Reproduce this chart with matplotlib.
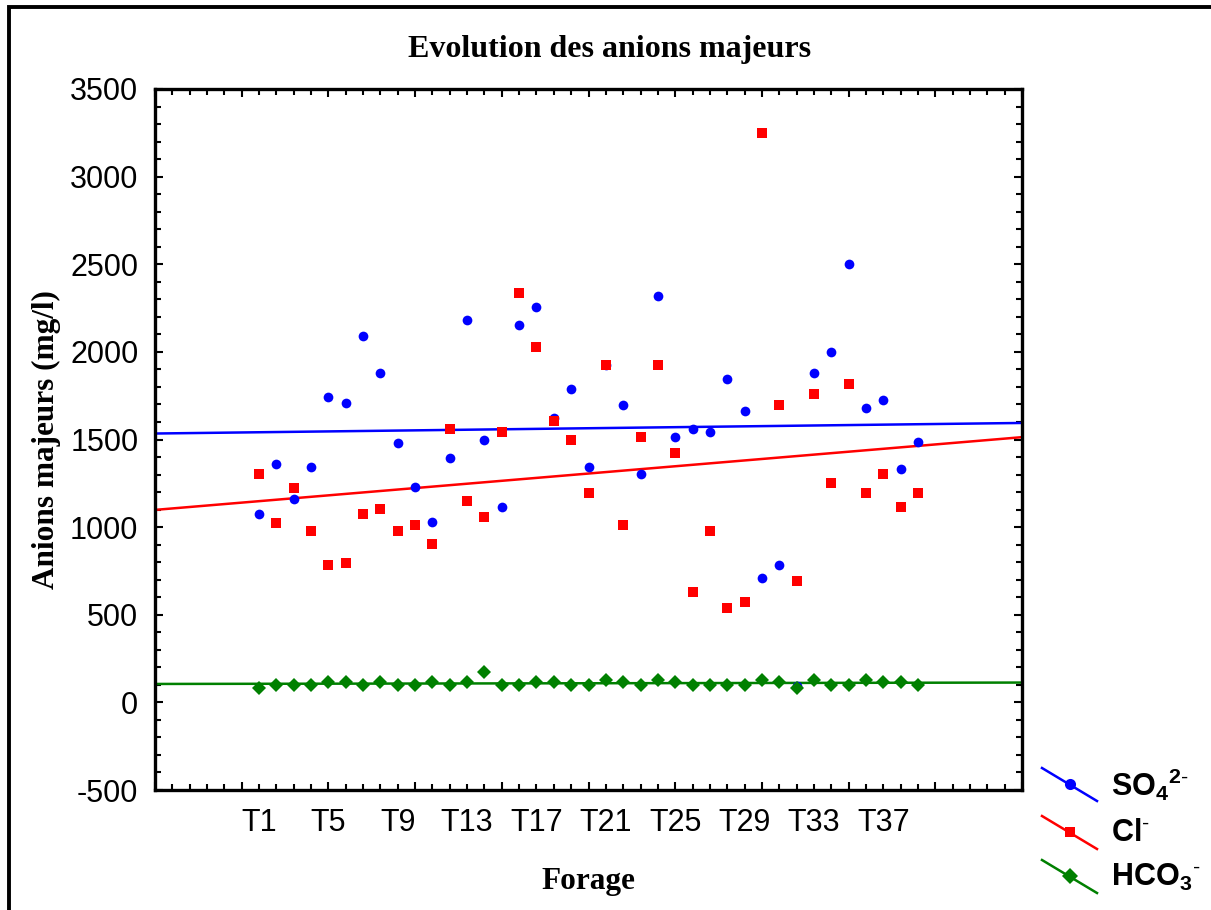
import numpy as np
import matplotlib
matplotlib.use("Agg")
import matplotlib.pyplot as plt
from matplotlib.lines import Line2D
from matplotlib.patches import Rectangle

plt.rcParams['font.family'] = ['Liberation Sans', 'DejaVu Sans']
plt.rcParams['mathtext.fontset'] = 'custom'
plt.rcParams['mathtext.rm'] = 'Liberation Sans'
plt.rcParams['mathtext.bf'] = 'Liberation Sans:bold'
plt.rcParams['axes.unicode_minus'] = False

# forages T1..T39 (numéro de cas 6..44 sur l'axe)
forages = [f"T{i}" for i in range(1, 40)]
x_cas = np.arange(1, 40) + 5

so4 = [1073, 1360, 1161, 1345, 1743, 1710, 2091, 1878, 1482, 1227,
       1028, 1393, 2182, 1497, 1117, 2152, 2258, 1625, 1787, 1345,
       1923, 1697, 1301, 2319, 1513, 1558, 1543, 1847, 1665, 708,
       782, 95, 1878, 2000, 2503, 1680, 1726, 1330, 1484]
cl = [1301, 1026, 1225, 980, 782, 797, 1073, 1102, 980, 1010,
      906, 1558, 1147, 1056, 1545, 2334, 2030, 1604, 1497, 1193,
      1923, 1010, 1513, 1923, 1421, 630, 980, 541, 571, 3247,
      1697, 691, 1758, 1254, 1818, 1193, 1301, 1117, 1193]
hco3 = [80, 100, 100, 100, 115, 115, 100, 115, 100, 100,
        115, 100, 115, 175, 100, 100, 115, 115, 100, 100,
        128, 115, 100, 128, 115, 100, 100, 100, 100, 128,
        115, 80, 128, 100, 100, 128, 115, 115, 100]

tick_labels = forages[::4]          # T1, T5, ..., T37
tick_pos = x_cas[::4]

series = [
    (so4, '#0000ff', 'o', 7, r'$\mathbf{SO_4{}^{2\text{-}}}$'),
    (cl, '#ff0000', 's', 6.8, r'$\mathbf{Cl^{\text{-}}}$'),
    (hco3, '#008000', 'D', 6.8, r'$\mathbf{HCO_3{}^{\text{-}}}$'),
]

W, H = 1211, 910
fig = plt.figure(figsize=(W / 100, H / 100), dpi=100)
ax = fig.add_axes([155 / W, 1 - 790 / H, (1022 - 155) / W, (790 - 89) / H])

xx = np.array([0, 50])
for vals, col, mk, ms, lab in series:
    ax.plot(x_cas, vals, linestyle='none', marker=mk, color=col,
            markersize=ms, markeredgewidth=0, zorder=3)
for vals, col, mk, ms, lab in series:
    b, a = np.polyfit(x_cas, vals, 1)
    ax.plot(xx, a + b * xx, color=col, lw=1.8, zorder=2)

ax.set_xlim(0, 50)
ax.set_ylim(-500, 3500)
ax.set_yticks(np.arange(-500, 3501, 500))
ax.set_yticks(np.arange(-500, 3501, 100), minor=True)
ax.set_xticks(np.arange(0, 51, 5))
ax.set_xticks(np.arange(0, 51, 1), minor=True)
ax.set_xticklabels([])
ax.tick_params(which='both', direction='in', top=True, right=True,
               width=1.5, colors='black')
ax.tick_params(which='major', length=6)
ax.tick_params(which='minor', length=4)
ax.tick_params(axis='y', labelsize=22, pad=12)
for s in ax.spines.values():
    s.set_linewidth(2.4)

sec = ax.secondary_xaxis('bottom')
sec.set_xticks(tick_pos, tick_labels)
sec.tick_params(length=0, labelsize=22, pad=13)
sec.spines['bottom'].set_visible(False)

fig.text(0.503, 1 - 50 / H, 'Evolution des anions majeurs', ha='center',
         va='center', fontsize=23, fontweight='bold', family='Liberation Serif')
fig.text(46 / W, 1 - 440 / H, 'Anions majeurs (mg/l)', rotation=90,
         ha='center', va='center', fontsize=22.5, fontweight='bold',
         family='Liberation Serif')
fig.text(588 / W, 1 - 882 / H, 'Forage', ha='center', va='center',
         fontsize=22.5, fontweight='bold', family='Liberation Serif')

# légende à droite (segments obliques style Statistica)
leg_y = [768, 816, 860]
for (vals, col, mk, ms, lab), y0 in zip(series, leg_y):
    fig.add_artist(Line2D([1042 / W, 1097 / W], [1 - y0 / H, 1 - (y0 + 33) / H],
                          color=col, lw=1.8, transform=fig.transFigure))
    fig.add_artist(Line2D([1070 / W], [1 - (y0 + 16) / H], marker=mk,
                          color=col, markersize=ms + 1, markeredgewidth=0,
                          transform=fig.transFigure))
    fig.text(1111 / W, 1 - (y0 + 17) / H, lab, ha='left', va='center',
             fontsize=22)

# cadre noir autour de la figure
fig.add_artist(Rectangle((9 / W, -0.1), 1.2, 1.1 - 7 / H, fill=False,
                         lw=2.8, edgecolor='black', transform=fig.transFigure))

fig.savefig('out.png', dpi=100, facecolor='white')
